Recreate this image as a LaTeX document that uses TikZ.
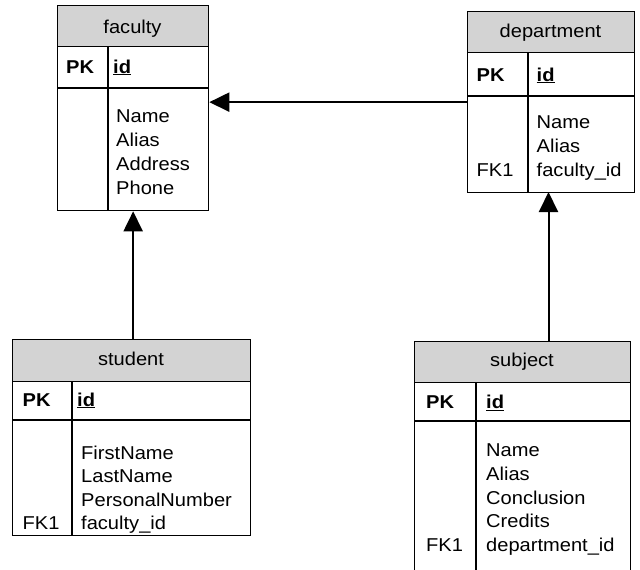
\documentclass[tikz,border=0pt]{standalone}
\usepackage{fontspec}
\setmainfont{Liberation Sans}[FakeStretch=1.08]
\usepackage{tikz}
\usetikzlibrary{arrows.meta}
\definecolor{headgray}{RGB}{211,211,211}

\begin{document}
\begin{tikzpicture}[x=1pt, y=-1pt,
  entity/.style={draw, line width=1.3pt, inner sep=0pt, anchor=north west},
  head/.style={entity, fill=headgray},
  field/.style={inner sep=0pt, anchor=base west, font=\fontsize{18.6}{22}\selectfont},
  title/.style={field, anchor=base},
  rule/.style={line width=1.3pt},
  fk/.style={line width=2pt, -{Triangle[length=20pt, width=19pt]}}]
\useasboundingbox (0,0) rectangle (640,570);
\clip (0,0) rectangle (640,570);

% faculty
\node[entity, minimum width=151pt, minimum height=205pt] (faculty) at (57,5) {};
\node[head, minimum width=151pt, minimum height=41pt] (faculty-head) at (57,5) {};
\draw[rule] (57,88) -- (208,88);
\draw[rule] (108,46) -- (108,210);
\node[title] (faculty-title) at (132.5,33) {faculty};
\node[field] (faculty-pk) at (66,73) {\textbf{PK}};
\node[field] (faculty-id) at (113,73) {\textbf{\underline{id}}};
\foreach \f [count=\i from 0] in {Name,Alias,Address,Phone}
  \node[field] (faculty-f\i) at (116,122.5+24*\i) {\f};

% department
\node[entity, minimum width=167pt, minimum height=181pt] (department) at (467,11) {};
\node[head, minimum width=167pt, minimum height=41pt] (department-head) at (467,11) {};
\draw[rule] (467,96) -- (634,96);
\draw[rule] (528,52) -- (528,192);
\node[title] (department-title) at (550.5,37.5) {department};
\node[field] (department-pk) at (476.5,81) {\textbf{PK}};
\node[field] (department-id) at (536.5,81) {\textbf{\underline{id}}};
\foreach \f [count=\i from 0] in {Name,Alias,faculty\_id}
  \node[field] (department-f\i) at (536.5,128.3+23.85*\i) {\f};
\node[field] (department-fk) at (476.5,176) {FK1};

% student
\node[entity, minimum width=238pt, minimum height=196pt] (student) at (12,339) {};
\node[head, minimum width=238pt, minimum height=42pt] (student-head) at (12,339) {};
\draw[rule] (12,420) -- (250,420);
\draw[rule] (72,381) -- (72,535);
\node[title] (student-title) at (131,365.5) {student};
\node[field] (student-pk) at (22.5,406) {\textbf{PK}};
\node[field] (student-id) at (77,406) {\textbf{\underline{id}}};
\foreach \f [count=\i from 0] in {FirstName,LastName,PersonalNumber,faculty\_id}
  \node[field] (student-f\i) at (81,459.3+23.35*\i) {\f};
\node[field] (student-fk) at (22.5,529.3) {FK1};

% subject
\node[entity, minimum width=216pt, minimum height=239pt] (subject) at (414,341) {};
\node[head, minimum width=216pt, minimum height=41pt] (subject-head) at (414,341) {};
\draw[rule] (414,421) -- (630,421);
\draw[rule] (476,382) -- (476,580);
\node[title] (subject-title) at (522,366.5) {subject};
\node[field] (subject-pk) at (426,408.3) {\textbf{PK}};
\node[field] (subject-id) at (486,408.3) {\textbf{\underline{id}}};
\foreach \f [count=\i from 0] in {Name,Alias,Conclusion,Credits,department\_id}
  \node[field] (subject-f\i) at (486,456.7+23.75*\i) {\f};
\node[field] (subject-fk) at (426,551.7) {FK1};

% relations
\coordinate (department-in) at (548.5,192);
\draw[fk] (department.west) -- (faculty.east |- department.west);
\draw[fk] (faculty.south |- student.north) -- (faculty.south);
\draw[fk] (department-in |- subject.north) -- (department-in);
\end{tikzpicture}
\end{document}
